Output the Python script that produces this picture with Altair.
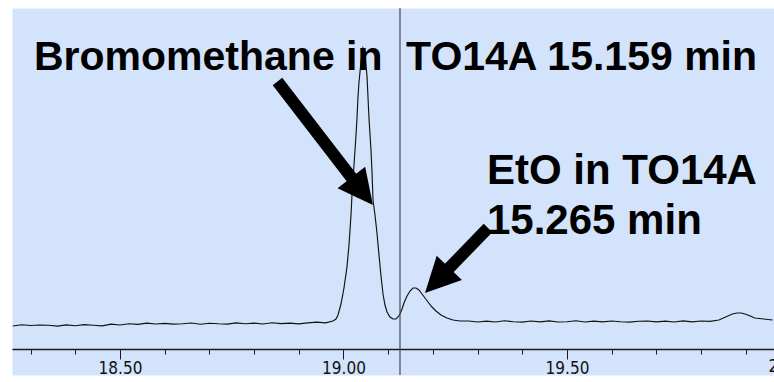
import altair as alt
import pandas as pd

# ---- chromatogram trace: retention time (min) and detector signal (counts) ----
trace_time = [
    18.26, 18.28, 18.30, 18.32, 18.34, 18.36, 18.38, 18.40, 18.42, 18.44, 18.46, 18.48,
    18.50, 18.52, 18.54, 18.56, 18.58, 18.60, 18.62, 18.64, 18.66, 18.68, 18.70, 18.72,
    18.74, 18.76, 18.78, 18.80, 18.82, 18.84, 18.86, 18.88, 18.90, 18.92, 18.94, 18.96,
    18.9765, 18.9832, 18.9877, 18.9944, 19.0011, 19.0078, 19.0123, 19.0168, 19.0190,
    19.0235, 19.0280, 19.0302, 19.0324, 19.0347, 19.0391, 19.0436, 19.0481, 19.0503,
    19.0526, 19.0548, 19.0570, 19.0615, 19.0638, 19.0660, 19.0705, 19.0749, 19.0794,
    19.0839, 19.0884, 19.0928, 19.0973, 19.1040, 19.1107, 19.1174, 19.1219, 19.1264,
    19.1309, 19.1353, 19.1421, 19.1488, 19.1555, 19.1622, 19.1689, 19.1756, 19.1823,
    19.1890, 19.1980, 19.2069, 19.2181, 19.2315, 19.2450, 19.2606,
    19.28, 19.30, 19.32, 19.34, 19.36, 19.38, 19.40, 19.42, 19.44, 19.46, 19.48, 19.50,
    19.52, 19.54, 19.56, 19.58, 19.60, 19.62, 19.64, 19.66, 19.68, 19.70, 19.72, 19.74,
    19.76, 19.78, 19.80, 19.82, 19.84, 19.86, 19.87, 19.88, 19.89, 19.90, 19.91, 19.92,
    19.94, 19.96,
]
trace_signal = [
    2300, 2420, 2350, 2400, 2380, 2290, 2410, 2330, 2440, 2380, 2320, 2480,
    2400, 2520, 2470, 2580, 2500, 2560, 2490, 2530, 2600, 2480, 2570, 2520,
    2490, 2610, 2530, 2580, 2500, 2620, 2540, 2590, 2510, 2610, 2680, 2620,
    2800, 3000, 3400, 4500, 6100, 8200, 10400, 13400, 15400,
    18400, 21400, 23100, 25200, 26700, 28700, 30100, 29700, 28400,
    27300, 25200, 23100, 19900, 17700, 14900, 13400, 11600, 9400,
    7300, 5500, 4400, 3700, 3200, 3000, 3000, 3200, 3500,
    4000, 4600, 5300, 5800, 6100, 6100, 5900, 5500, 5100,
    4700, 4200, 3800, 3400, 3100, 2900, 2800,
    2800, 2700, 2780, 2700, 2820, 2720, 2690, 2800, 2720, 2810, 2700, 2730,
    2820, 2700, 2790, 2710, 2800, 2720, 2690, 2780, 2800, 2710, 2790, 2700,
    2810, 2720, 2800, 2760, 2900, 3300, 3500, 3600, 3600, 3480, 3300, 3100,
    3000, 2900,
]

# ---- axis ticks ----
minor_ticks = [18.3, 18.4, 18.5, 18.6, 18.7, 18.8, 18.9, 19.0, 19.1, 19.2,
               19.3, 19.4, 19.5, 19.6, 19.7, 19.8, 19.9]
major_ticks = [18.5, 19.0, 19.5]
offscreen_tick_time = [20.0]
offscreen_tick_text = ["20.00"]
tick_label_signal = [-1750]

# ---- cursor ----
cursor_time = [19.1264]

# ---- annotations ----
label_text = ["Bromomethane in", "TO14A 15.159 min", "EtO in TO14A", "15.265 min"]
label_time = [18.3076, 19.1400, 19.3210, 19.3210]
label_signal = [27900, 27900, 16500, 11500]
label_size = [41, 41, 42, 42]

arrow_start_time = [18.8523, 19.3233]
arrow_start_signal = [26750, 12100]
arrow_neck_time = [19.0324, 19.2213]
arrow_neck_signal = [16300, 7400]
arrow_tip_time = [19.0658, 19.1823]
arrow_tip_signal = [14400, 5600]
arrow_angle = [142, 224]

X_DOMAIN = [18.2584, 19.9631]
Y_DOMAIN = [-2600, 34100]

trace_df = pd.DataFrame({"time": trace_time, "signal": trace_signal})
cursor_df = pd.DataFrame({"time": cursor_time})
label_df = pd.DataFrame({"text": label_text, "time": label_time,
                         "signal": label_signal, "size": label_size})
arrow_df = pd.DataFrame({"t0": arrow_start_time, "s0": arrow_start_signal,
                         "t1": arrow_neck_time, "s1": arrow_neck_signal,
                         "tt": arrow_tip_time, "st": arrow_tip_signal,
                         "angle": arrow_angle})
off_df = pd.DataFrame({"time": offscreen_tick_time, "text": offscreen_tick_text,
                       "signal": tick_label_signal})

xs = alt.Scale(domain=X_DOMAIN, nice=False, zero=False)
ys = alt.Scale(domain=Y_DOMAIN, nice=False, zero=False)

AXIS_OFFSET = -26
LABEL_FONT = "Liberation Sans Narrow, DejaVu Sans Condensed, Liberation Sans, sans-serif"

minor_axis = alt.Axis(orient="bottom", offset=AXIS_OFFSET, values=minor_ticks,
                      tickSize=5, tickColor="#1a1a1a", tickWidth=1,
                      domainColor="#1a1a1a", domainWidth=1.5,
                      labels=False, grid=False, title=None)
major_axis = alt.Axis(orient="bottom", offset=AXIS_OFFSET, values=major_ticks,
                      tickSize=10, tickColor="#1a1a1a", tickWidth=1,
                      domain=False, grid=False, title=None, format=".2f",
                      labelFont=LABEL_FONT, labelFontSize=17, labelColor="#111111",
                      labelPadding=1, labelFlush=False, labelOverlap=False)

trace = alt.Chart(trace_df).mark_line(color="#111111", strokeWidth=1.15).encode(
    x=alt.X("time:Q", scale=xs, axis=minor_axis),
    y=alt.Y("signal:Q", scale=ys, axis=None),
)

cursor = alt.Chart(cursor_df).mark_rule(color="#4a4a4a", strokeWidth=1.2).encode(
    x=alt.X("time:Q", scale=xs, axis=major_axis),
)

off_label = alt.Chart(off_df).mark_text(
    font=LABEL_FONT, fontSize=17, color="#111111", baseline="middle", align="center"
).encode(
    x=alt.X("time:Q", scale=xs, axis=None),
    y=alt.Y("signal:Q", scale=ys, axis=None),
    text="text:N",
)

shafts = alt.Chart(arrow_df).mark_rule(color="black", strokeWidth=12, strokeCap="butt").encode(
    x=alt.X("t0:Q", scale=xs, axis=None),
    y=alt.Y("s0:Q", scale=ys, axis=None),
    x2="t1:Q",
    y2="s1:Q",
)

heads = alt.Chart(arrow_df).mark_point(
    shape="M0,0L0.5,1L-0.5,1Z", filled=True, color="black", opacity=1,
    size=4900, strokeWidth=0,
).encode(
    x=alt.X("tt:Q", scale=xs, axis=None),
    y=alt.Y("st:Q", scale=ys, axis=None),
    angle=alt.Angle("angle:Q", scale=None),
)

labels = alt.Chart(label_df).mark_text(
    font="Liberation Sans, Arial, sans-serif", fontWeight="bold", color="black",
    align="left", baseline="alphabetic",
).encode(
    x=alt.X("time:Q", scale=xs, axis=None),
    y=alt.Y("signal:Q", scale=ys, axis=None),
    text="text:N",
    size=alt.Size("size:Q", scale=None),
)

chart = (
    alt.layer(trace, cursor, off_label, shafts, heads, labels)
    .resolve_axis(x="independent")
    .properties(
        width=762,
        height=367,
        background="white",
        padding={"left": 12, "top": 8, "right": 0, "bottom": 7},
        autosize=alt.AutoSizeParams(type="none"),
    )
    .configure_view(fill="#d3e3fb", stroke="transparent")
)

chart.save("out.html", embed_options={"renderer": "svg", "actions": False})
